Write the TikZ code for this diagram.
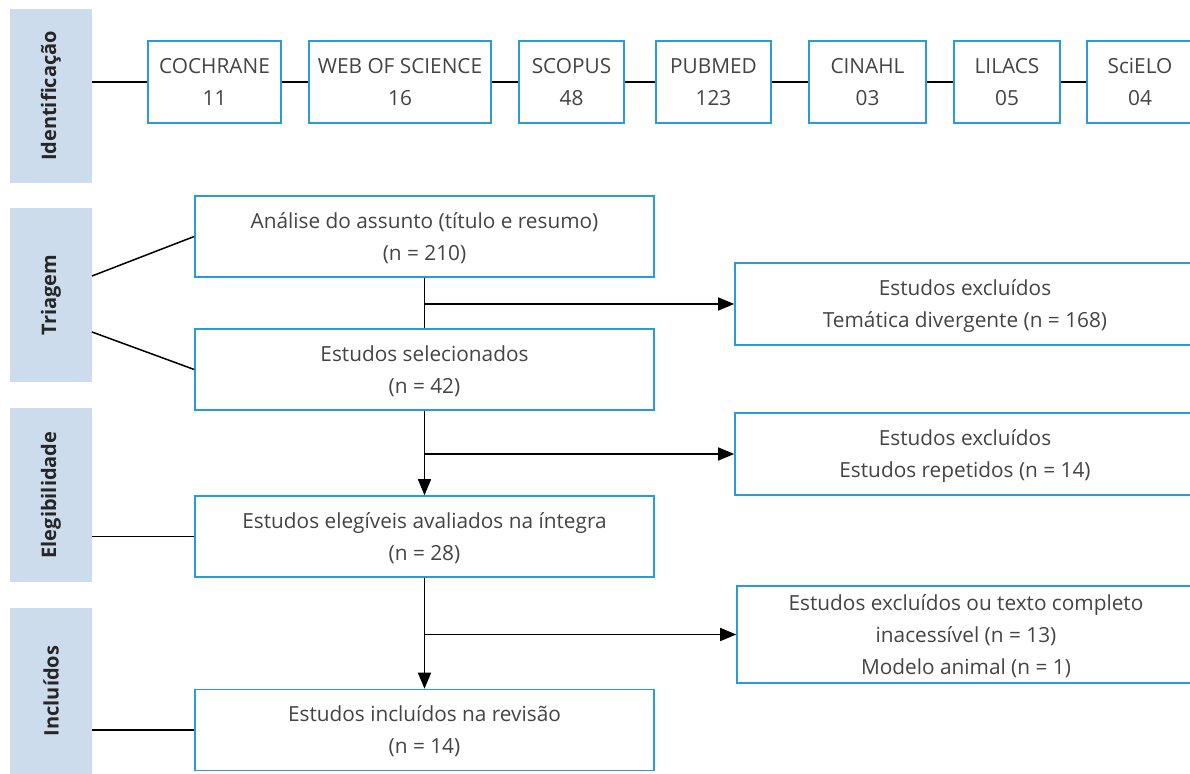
\documentclass[tikz,border=0pt]{standalone}
\usepackage{fontspec}
\setmainfont{Open Sans}
\usetikzlibrary{arrows.meta}
\definecolor{boxblue}{RGB}{41,155,214}
\definecolor{barblue}{RGB}{204,220,237}
\definecolor{txtgray}{RGB}{68,68,68}
\tikzset{
  box/.style={draw=boxblue, line width=0.8pt, fill=white, align=center, text=txtgray,
    font=\fontsize{10.4}{16}\selectfont, inner sep=0pt, text height=24pt, text depth=-3pt},
  bar/.style={fill=barblue, minimum width=41pt, minimum height=87pt, inner sep=0pt,
    text=black!85, font=\fontsize{10}{12}\selectfont\bfseries},
  con/.style={line width=0.75pt},
  arr/.style={con, -{Triangle[length=8pt,width=6.5pt]}}
}
\begin{document}
\begin{tikzpicture}[x=0.5pt,y=-0.5pt]
\useasboundingbox (0,0) rectangle (1190,774);
% fases
\node[bar] (idf) at (51,96) {\rotatebox{90}{Identificação}};
\node[bar] (tri) at (51,295) {\rotatebox{90}{Triagem}};
\node[bar] (elg) at (51,495) {\rotatebox{90}{Elegibilidade}};
\node[bar, minimum height=83pt] (inc) at (51,691) {\rotatebox{90}{Incluídos}};
% bases de dados
\foreach \nm/\lab/\num/\xl/\xr in {coch/COCHRANE/11/148/281, wos/WEB OF SCIENCE/16/309/491,
    sco/SCOPUS/48/519/624, pub/PUBMED/123/656/771, cin/CINAHL/03/809/926,
    lil/LILACS/05/954/1060, sci/SciELO/04/1087/1193}
  \node[box, minimum height=41pt, minimum width={(\xr-\xl)*0.5pt}] (\nm) at ({(\xl+\xr)/2},82) {\lab\\\num};
\draw[con] (idf.east |- coch.west) -- (coch.west);
\foreach \a/\b in {coch/wos,wos/sco,sco/pub,pub/cin,cin/lil,lil/sci}
  \draw[con] (\a) -- (\b);
% fluxo principal
\node[box, minimum width=229.5pt, minimum height=40.5pt] (ana) at (424.5,236.5) {Análise do assunto (título e resumo)\\(n = 210)};
\node[box, minimum width=229.5pt, minimum height=40.5pt] (sel) at (424.5,369.5) {Estudos selecionados\\(n = 42)};
\node[box, minimum width=229.5pt, minimum height=40.5pt] (ele) at (424.5,536.5) {Estudos elegíveis avaliados na íntegra\\(n = 28)};
\node[box, minimum width=229.5pt, minimum height=40.5pt] (incd) at (424.5,730) {Estudos incluídos na revisão\\(n = 14)};
% excluidos
\node[box, minimum width=230pt, minimum height=41pt] (exa) at (965,304) {Estudos excluídos\\Temática divergente (n = 168)};
\node[box, minimum width=230pt, minimum height=41pt] (exb) at (965,454) {Estudos excluídos\\Estudos repetidos (n = 14)};
\node[box, minimum width=229pt, minimum height=48.5pt, text height=40pt] (exc) at (966,634.5) {Estudos excluídos ou texto completo\\inacessível (n = 13)\\Modelo animal (n = 1)};
% ligacoes
\coordinate (t1) at (92,276);
\coordinate (t2) at (92,332);
\draw[con] (t1) -- (ana.west);
\draw[con] (t2) -- (sel.west);
\draw[con] (elg.east |- ele.west) -- (ele.west);
\draw[con] (inc.east |- incd.west) -- (incd.west);
\draw[con] (ana) -- (sel);
\draw[arr] (sel) -- (ele);
\draw[arr] (ele) -- (incd);
\draw[arr] (ana.south |- exa.west) -- (exa.west);
\draw[arr] (sel.south |- exb.west) -- (exb.west);
\draw[arr] (ele.south |- exc.west) -- (exc.west);
\end{tikzpicture}
\end{document}
